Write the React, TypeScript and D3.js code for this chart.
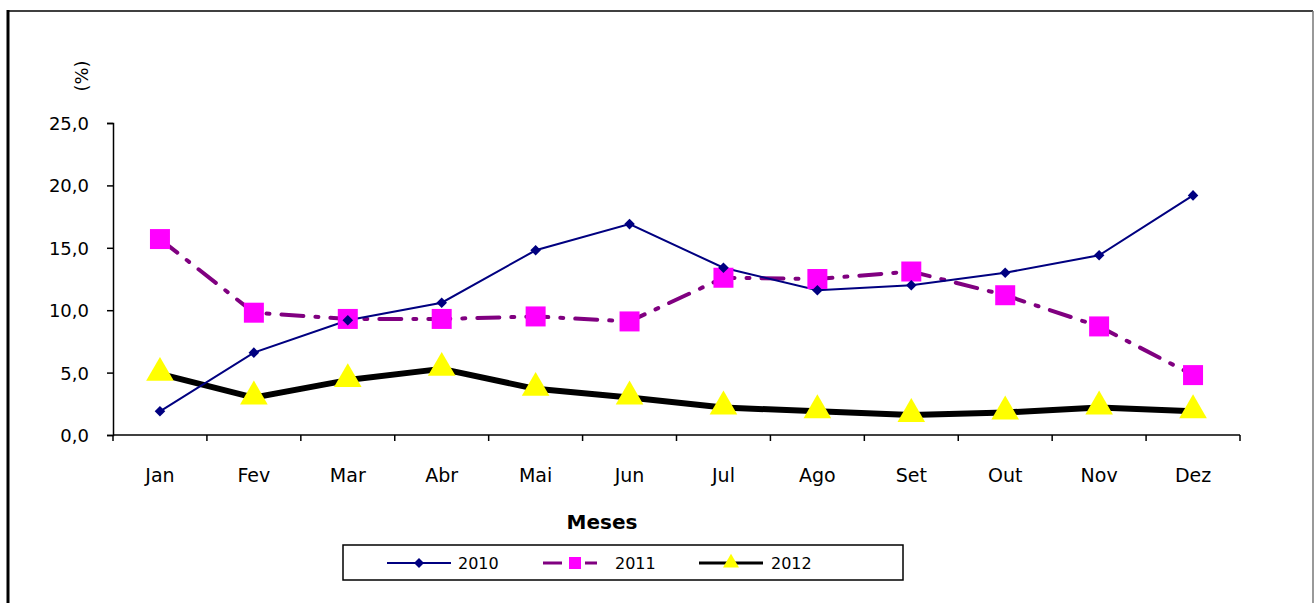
import { useRef, useEffect } from 'react'
import * as d3 from 'd3'

const months = ['Jan', 'Fev', 'Mar', 'Abr', 'Mai', 'Jun', 'Jul', 'Ago', 'Set', 'Out', 'Nov', 'Dez']
const s2010 = [1.9, 6.6, 9.2, 10.6, 14.8, 16.9, 13.4, 11.6, 12.0, 13.0, 14.4, 19.2]
const s2011 = [15.7, 9.8, 9.3, 9.3, 9.5, 9.1, 12.6, 12.5, 13.1, 11.2, 8.7, 4.8]
const s2012 = [4.9, 3.0, 4.4, 5.3, 3.7, 3.0, 2.2, 1.9, 1.6, 1.8, 2.2, 1.9]
const yTicks = [0, 5, 10, 15, 20, 25]
const years = ['2010', '2011', '2012']

const W = 1315
const H = 603
const FONT = 'DejaVu Sans, Verdana, sans-serif'

export default function App() {
  const svgRef = useRef<SVGSVGElement>(null)

  useEffect(() => {
    if (!svgRef.current) return
    const svg = d3.select(svgRef.current)
    svg.selectAll('*').remove()

    // outer frame
    svg.append('rect').attr('width', W).attr('height', H).attr('fill', '#fff')
    svg.append('line').attr('x1', 8).attr('x2', 8).attr('y1', 10).attr('y2', H).attr('stroke', '#000').attr('stroke-width', 3)
    svg.append('line').attr('x1', 7).attr('x2', 1313).attr('y1', 11).attr('y2', 11).attr('stroke', '#000').attr('stroke-width', 1.5)
    svg.append('line').attr('x1', 1313).attr('x2', 1313).attr('y1', 11).attr('y2', H).attr('stroke', '#777').attr('stroke-width', 1.5)

    const left = 113
    const right = 1240
    const top = 123
    const bottom = 435

    const x = d3.scaleBand<string>().domain(months).range([left, right])
    const y = d3.scaleLinear().domain([0, 25]).range([bottom, top])
    const cx = (m: string) => (x(m) ?? 0) + x.bandwidth() / 2

    // y axis
    const yAxis = svg.append('g').attr('transform', `translate(${left},0)`)
      .call(d3.axisLeft(y).tickValues(yTicks).tickSize(6).tickPadding(18).tickFormat((d) => d3.format('.1f')(d as number).replace('.', ',')))
    yAxis.select('.domain').attr('stroke', '#000').attr('stroke-width', 1.5)
    yAxis.selectAll('.tick line').attr('stroke', '#000').attr('stroke-width', 1.5)
    yAxis.selectAll('text').attr('font-family', FONT).attr('font-size', 18).attr('fill', '#000').attr('dy', '0.36em')

    // x axis
    const xg = svg.append('g').attr('transform', `translate(0,${bottom})`)
    xg.append('line').attr('x1', left).attr('x2', right).attr('stroke', '#000').attr('stroke-width', 1.5)
    const bounds = months.map((m) => x(m) ?? 0).concat([right])
    xg.selectAll('line.tk').data(bounds).enter().append('line').attr('class', 'tk')
      .attr('x1', (d) => d).attr('x2', (d) => d).attr('y1', 0).attr('y2', 6)
      .attr('stroke', '#000').attr('stroke-width', 1.5)
    xg.selectAll('text').data(months).enter().append('text')
      .attr('x', (d) => cx(d)).attr('y', 47).attr('text-anchor', 'middle')
      .attr('font-family', FONT).attr('font-size', 19).attr('fill', '#000').text((d) => d)

    // axis titles
    svg.append('text').attr('transform', 'translate(88,76) rotate(-90)').attr('text-anchor', 'middle')
      .attr('font-family', FONT).attr('font-size', 18).text('(%)')
    svg.append('text').attr('x', 602).attr('y', 529).attr('text-anchor', 'middle')
      .attr('font-family', FONT).attr('font-size', 20).attr('font-weight', 'bold').text('Meses')

    const line = d3.line<number>().x((_, i) => cx(months[i])).y((d) => y(d))

    // 2012
    svg.append('path').attr('d', line(s2012) ?? '').attr('fill', 'none').attr('stroke', '#000').attr('stroke-width', 6).attr('stroke-linejoin', 'round')
    // 2011
    svg.append('path').attr('d', line(s2011) ?? '').attr('fill', 'none').attr('stroke', '#800080').attr('stroke-width', 4)
      .attr('stroke-dasharray', '22,12,3,12').attr('stroke-linecap', 'round')
    // 2010
    svg.append('path').attr('d', line(s2010) ?? '').attr('fill', 'none').attr('stroke', '#000080').attr('stroke-width', 2)

    const tri = d3.symbol().type(d3.symbolTriangle).size(330)
    const sq = d3.symbol().type(d3.symbolSquare).size(400)
    const dia = d3.symbol().type(d3.symbolSquare).size(56)

    svg.selectAll('path.m12').data(s2012).enter().append('path').attr('class', 'm12')
      .attr('d', tri() ?? '').attr('fill', '#ffff00')
      .attr('transform', (d, i) => `translate(${cx(months[i])},${y(d) - 1})`)
    svg.selectAll('path.m11').data(s2011).enter().append('path').attr('class', 'm11')
      .attr('d', sq() ?? '').attr('fill', '#ff00ff')
      .attr('transform', (d, i) => `translate(${cx(months[i])},${y(d)})`)
    svg.selectAll('path.m10').data(s2010).enter().append('path').attr('class', 'm10')
      .attr('d', dia() ?? '').attr('fill', '#000080')
      .attr('transform', (d, i) => `translate(${cx(months[i])},${y(d)}) rotate(45)`)

    // legend
    const lg = svg.append('g')
    lg.append('rect').attr('x', 343).attr('y', 545).attr('width', 560).attr('height', 35)
      .attr('fill', '#fff').attr('stroke', '#000').attr('stroke-width', 1.5)
    const items = [
      { x: 387, len: 64, color: '#000080', w: 2, dash: null as string | null, marker: d3.symbol().type(d3.symbolSquare).size(50), rot: 45, fill: '#000080', tx: 71 },
      { x: 543, len: 54, color: '#800080', w: 3, dash: '19,23,12', marker: d3.symbol().type(d3.symbolSquare).size(144), rot: 0, fill: '#ff00ff', tx: 72 },
      { x: 699, len: 64, color: '#000', w: 3, dash: null, marker: d3.symbol().type(d3.symbolTriangle).size(110), rot: 0, fill: '#ffff00', tx: 72 },
    ]
    items.forEach((it, i) => {
      const g = lg.append('g').attr('transform', `translate(${it.x},563)`)
      const ln = g.append('line').attr('x1', 0).attr('x2', it.len).attr('stroke', it.color).attr('stroke-width', it.w)
      if (it.dash) ln.attr('stroke-dasharray', it.dash)
      g.append('path').attr('d', it.marker() ?? '').attr('fill', it.fill)
        .attr('transform', `translate(${i === 1 ? 32 : 32},0) rotate(${it.rot})`)
      g.append('text').attr('x', it.tx).attr('y', 0).attr('dy', '0.36em')
        .attr('font-family', FONT).attr('font-size', 16).text(years[i])
    })
  }, [])

  return (
    <div style={{ position: 'absolute', left: 0, top: 0 }}>
      <svg ref={svgRef} width={W} height={H} style={{ display: 'block' }} />
    </div>
  )
}
